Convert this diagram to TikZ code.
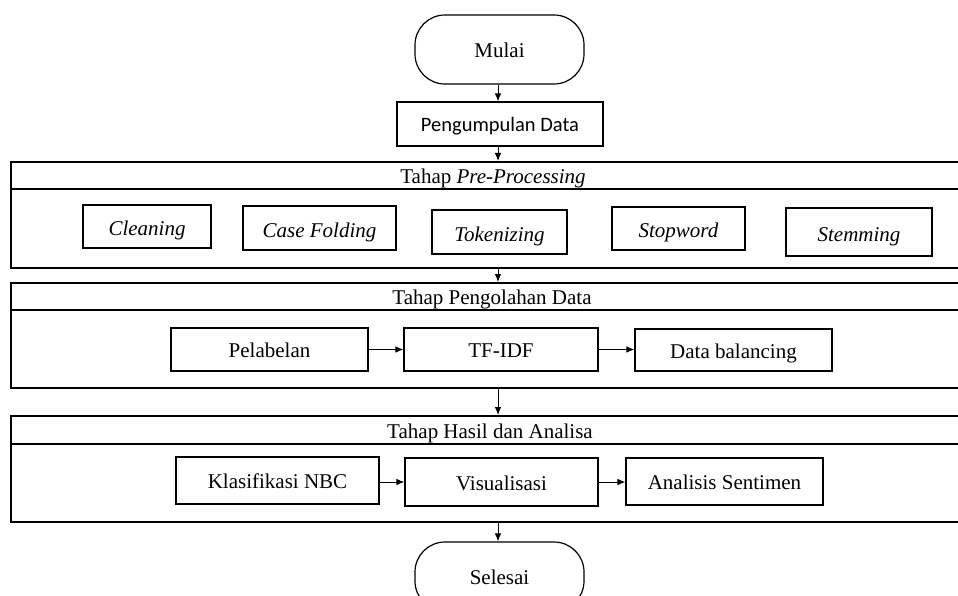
\documentclass[tikz,border=0pt]{standalone}
\usepackage{fontspec}
\setmainfont{Liberation Serif}
\newfontfamily\calibrifont{Carlito}
\usetikzlibrary{arrows.meta}
\begin{document}
\begin{tikzpicture}[x=1pt,y=-1pt,
  txt/.style={font=\fontsize{21}{24}\selectfont,text height=16pt,text depth=0pt},
  box/.style={draw,line width=1.2pt,inner sep=0pt,txt},
  ibox/.style={box,font=\fontsize{21}{24}\selectfont\itshape,text height=18pt},
  term/.style={draw,line width=1.2pt,inner sep=0pt,rounded corners=30pt,minimum width=169pt,minimum height=69pt,txt},
  panel/.style={draw,line width=1.8pt,inner sep=0pt,anchor=north west,minimum width=970pt},
  ptitle/.style={txt,inner sep=0pt},
  arr/.style={-{Latex[length=8pt,width=6.5pt]},line width=0.9pt}]
\useasboundingbox (0,0) rectangle (958,596);

% terminals and first step
\node[term] (mulai) at (499.5,49.5) {Mulai};
\node[box,minimum width=206pt,minimum height=44pt,font=\fontsize{20.5}{24}\calibrifont] (pg) at (500,124) {Pengumpulan Data};

% Pre-processing panel
\node[panel,minimum height=106pt] (pp) at (10,161) {};
\draw[line width=1.8pt] (pp.west |- 0,189) -- (pp.east |- 0,189);
\node[ptitle] (ppt) at (493,176) {Tahap \textit{Pre-Processing}};
\node[ibox,minimum width=128pt,minimum height=43pt] (cl) at (147,226.5) {Cleaning};
\node[ibox,minimum width=153pt,minimum height=44pt] (cf) at (319.5,228) {Case Folding};
\node[ibox,minimum width=135pt,minimum height=44pt] (tk) at (499.5,232) {Tokenizing};
\node[ibox,minimum width=133pt,minimum height=43pt] (sw) at (678.5,228.5) {Stopword};
\node[ibox,minimum width=146pt,minimum height=48pt] (st) at (859,232) {Stemming};

% Pengolahan panel
\node[panel,minimum height=105pt] (po) at (10,282) {};
\draw[line width=1.8pt] (po.west |- 0,310) -- (po.east |- 0,310);
\node[ptitle] (pot) at (492,296) {Tahap Pengolahan Data};
\node[box,minimum width=197pt,minimum height=43pt] (pel) at (269.5,349.5) {Pelabelan};
\node[box,minimum width=194pt,minimum height=43pt] (tf) at (501,349.5) {TF-IDF};
\node[box,minimum width=197pt,minimum height=42pt] (db) at (733.5,350) {Data balancing};

% Hasil panel
\node[panel,minimum height=106pt] (hs) at (10,415) {};
\draw[line width=1.8pt] (hs.west |- 0,444) -- (hs.east |- 0,444);
\node[ptitle] (hst) at (490,430) {Tahap Hasil dan Analisa};
\node[box,minimum width=203pt,minimum height=47pt] (nbc) at (277.5,480.5) {Klasifikasi NBC};
\node[box,minimum width=193pt,minimum height=48pt] (vis) at (501.5,482) {Visualisasi};
\node[box,minimum width=197pt,minimum height=47pt] (as) at (724.5,481.5) {Analisis Sentimen};

\node[term] (selesai) at (499.5,576.5) {Selesai};

% connectors
\draw[arr] (mulai.south -| 498,0) -- (pg.north -| 498,0);
\draw[arr] (pg.south -| 498,0) -- (pp.north -| 498,0);
\draw[arr] (pp.south -| 498,0) -- (po.north -| 498,0);
\draw[arr] (po.south -| 498,0) -- (hs.north -| 498,0);
\draw[arr] (hs.south -| 498,0) -- (selesai.north -| 498,0);
\draw[arr] (pel.east) -- (pel.east -| tf.west);
\draw[arr] (tf.east) -- (tf.east -| db.west);
\draw[arr] (nbc.east |- 0,482) -- (vis.west |- 0,482);
\draw[arr] (vis.east |- 0,482) -- (as.west |- 0,482);
\end{tikzpicture}
\end{document}
